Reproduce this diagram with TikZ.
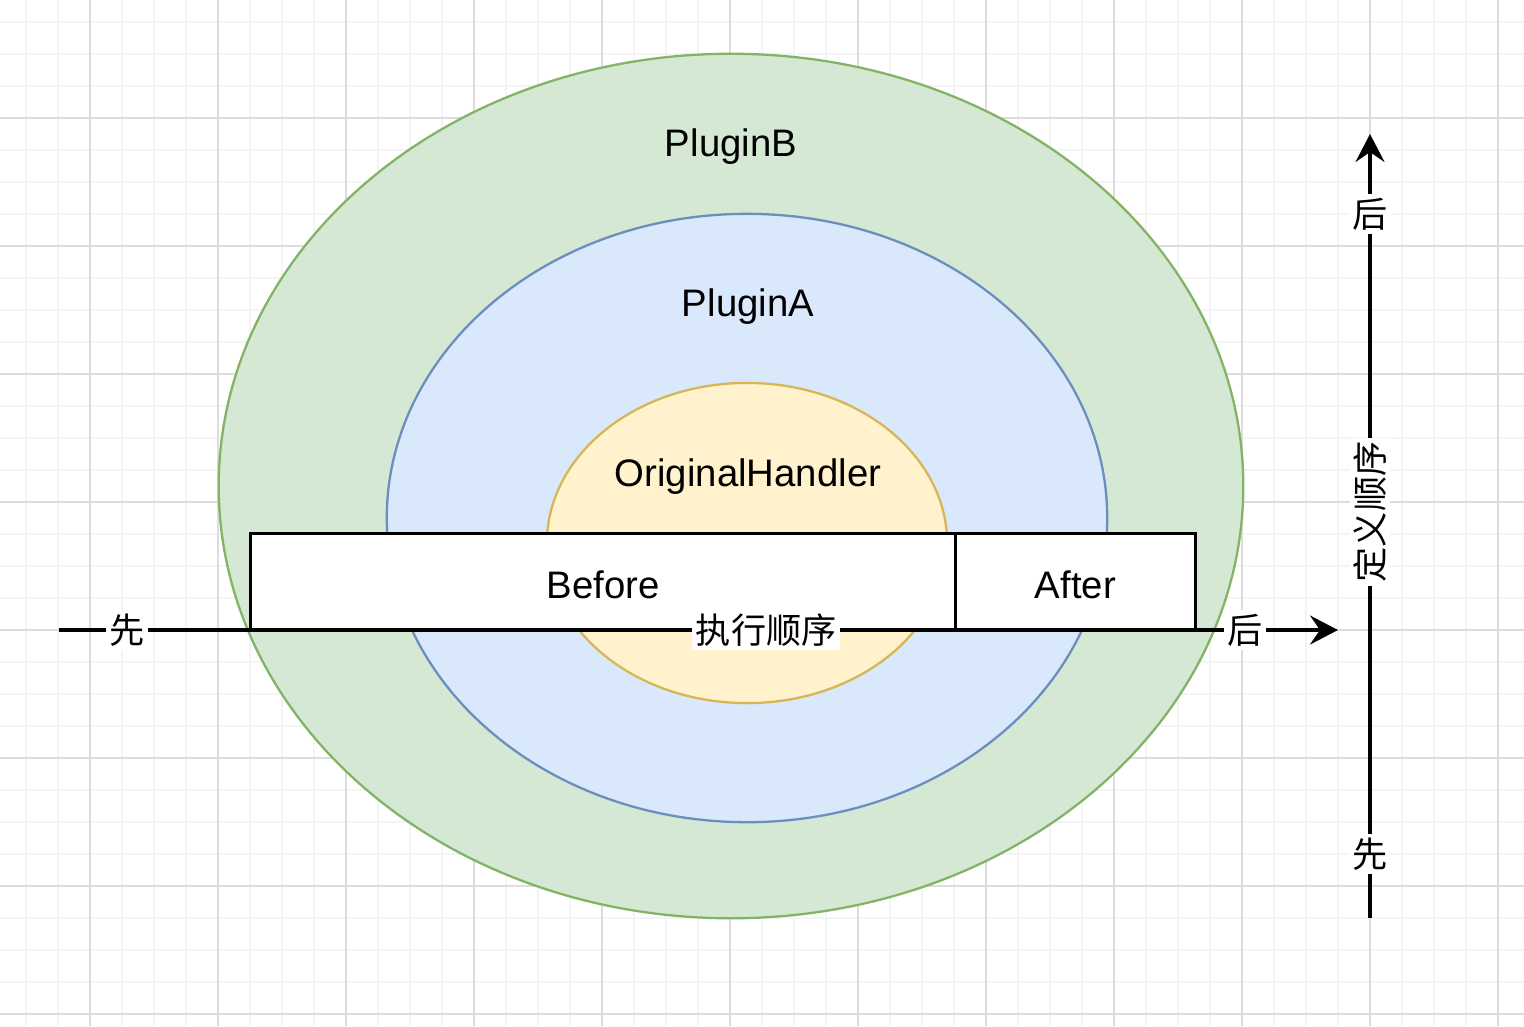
\documentclass[tikz,border=0pt]{standalone}
\usepackage{fontspec}
\setmainfont{Liberation Sans}
\newfontfamily\cjk{Noto Sans CJK SC}
\usepackage{xcolor}
\usetikzlibrary{arrows.meta,shapes,positioning,calc}

\definecolor{gridminor}{HTML}{F4F4F4}
\definecolor{gridmajor}{HTML}{DDDDDD}
\definecolor{greenfill}{HTML}{D5E8D4}
\definecolor{greenline}{HTML}{82B366}
\definecolor{bluefill}{HTML}{DAE8FC}
\definecolor{blueline}{HTML}{6C8EBF}
\definecolor{yellowfill}{HTML}{FFF2CC}
\definecolor{yellowline}{HTML}{D6B656}

\begin{document}
\begin{tikzpicture}[x=0.01cm,y=-0.01cm,
  ring/.style={ellipse,inner sep=0pt,line width=0.65pt},
  box/.style={draw,fill=white,line width=0.9pt,inner sep=0pt,outer sep=0pt,minimum height=0.96cm,text depth=0pt,text height=3.4mm},
  txt/.style={font=\fontsize{10.9}{13}\selectfont},
  flow/.style={line width=0.9pt,-{Stealth[length=2.8mm,width=2.9mm,inset=1mm]}},
  lbl/.style={fill=white,inner sep=1pt,font=\cjk\fontsize{10}{12}\selectfont}]
\useasboundingbox (0,0) rectangle (1524,1026);

% background grid, 32px minor / 128px major
\foreach \x in {26,58,...,1522} \draw[gridminor,line width=0.5pt] (\x,0) -- (\x,1026);
\foreach \y in {22,54,...,1022} \draw[gridminor,line width=0.5pt] (0,\y) -- (1524,\y);
\foreach \x in {90,218,...,1498} \draw[gridmajor,line width=0.3pt] (\x,0) -- (\x,1026);
\foreach \y in {118,246,...,1014} \draw[gridmajor,line width=0.3pt] (0,\y) -- (1524,\y);

% nested plugins
\node[ring,fill=greenfill,draw=greenline,minimum width=10.24cm,minimum height=8.64cm] (pluginb) at (731,486) {};
\node[ring,fill=bluefill,draw=blueline,minimum width=7.2cm,minimum height=6.08cm] (plugina) at (747,518) {};
\node[ring,fill=yellowfill,draw=yellowline,minimum width=4cm,minimum height=3.2cm] (handler) at (747,543) {};
\node[txt] (pluginbtxt) at (731,147) {PluginB};
\node[txt] (pluginatxt) at (748,307) {PluginA};
\node[txt] (handlertxt) at (748,477) {OriginalHandler};

% before / after
\node[box,txt,minimum width=7.04cm] (before) at (603,581.5) {Before};
\node[box,txt,minimum width=2.4cm,right=0pt of before] (after) {After};

% execution order
\coordinate (hstart) at (59,630);
\coordinate (hend) at (1338,630);
\draw[flow] (hstart) -- (hend)
  node[lbl,pos=0.053] {先}
  node[lbl,pos=0.553] {执行顺序}
  node[lbl,pos=0.927] {后};

% definition order
\coordinate (vstart) at (1370,918);
\coordinate (vend) at (1370,134);
\draw[flow] (vstart) -- (vend)
  node[lbl,pos=0.082] {先}
  node[lbl,pos=0.518,rotate=90] {定义顺序}
  node[lbl,pos=0.898] {后};
\end{tikzpicture}
\end{document}
